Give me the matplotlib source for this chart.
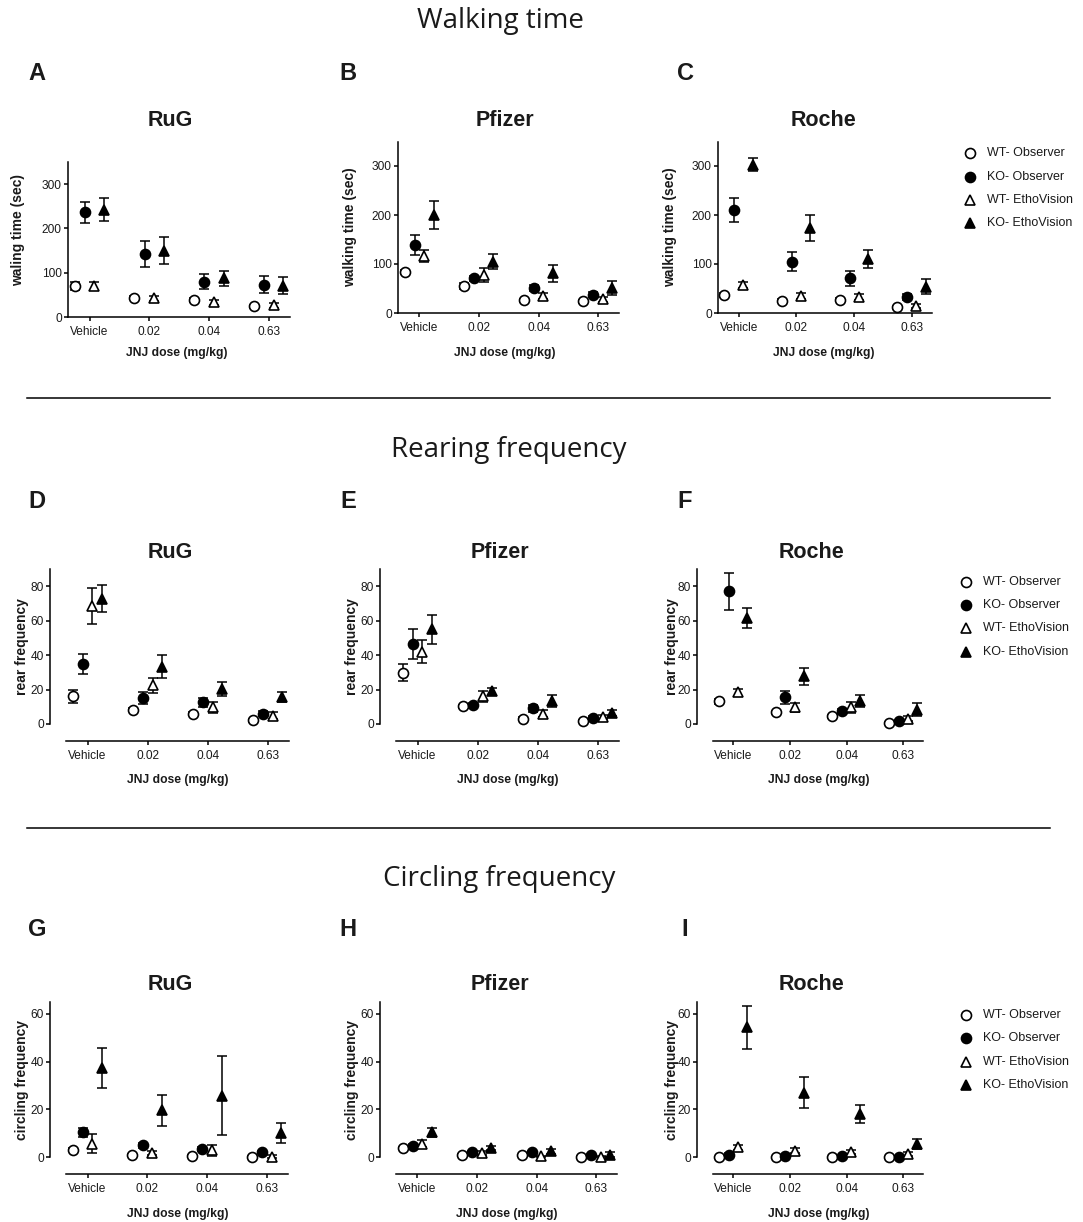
import matplotlib
matplotlib.use('Agg')
import matplotlib.pyplot as plt
from matplotlib import font_manager
from matplotlib.lines import Line2D
import numpy as np

doses = ['Vehicle', '0.02', '0.04', '0.63']
groups = ['WT- Observer', 'KO- Observer', 'WT- EthoVision', 'KO- EthoVision']
sites = ['RuG', 'Pfizer', 'Roche']

# walking time (sec), rows = groups, cols = doses
walk_rug = [[71, 44, 39, 24], [236, 143, 80, 73], [71, 42, 33, 26], [242, 150, 88, 71]]
walk_rug_err = [[9, 4, 4, 3], [23, 29, 17, 19], [9, 6, 6, 6], [26, 31, 17, 20]]
walk_pfizer = [[83, 56, 26, 24], [139, 71, 51, 37], [116, 78, 34, 28], [200, 105, 81, 51]]
walk_pfizer_err = [[4, 6, 3, 3], [20, 5, 7, 5], [12, 14, 6, 5], [28, 15, 17, 14]]
walk_roche = [[36, 25, 27, 12], [210, 105, 71, 32], [58, 35, 32, 15], [303, 173, 110, 54]]
walk_roche_err = [[4, 3, 3, 3], [24, 20, 15, 6], [6, 6, 6, 4], [13, 26, 19, 16]]

# rear frequency
rear_rug = [[16, 8.3, 6, 2.1], [34.9, 15, 12.5, 6], [68.4, 22.4, 9.6, 4.8], [72.8, 33.3, 20.2, 15.6]]
rear_rug_err = [[3.9, 1, 1, 0.8], [5.8, 3.3, 2.5, 1.5], [10.5, 4.3, 3, 2], [8, 6.5, 4, 3]]
rear_pfizer = [[29.9, 10.2, 3.1, 1.9], [46.4, 10.8, 9.1, 3.7], [42, 16, 6, 4], [54.9, 18.9, 13.5, 6.4]]
rear_pfizer_err = [[4.8, 1, 0.8, 0.6], [8.9, 1.5, 2, 1], [6.5, 3.2, 2, 1], [8.2, 2, 3.4, 2]]
rear_roche = [[13.1, 6.7, 4.4, 0.6], [77, 15.4, 7.3, 1.5], [18.3, 9.6, 9.6, 3.1], [61.7, 27.6, 13.1, 8.3]]
rear_roche_err = [[1.5, 1, 1, 0.5], [10.6, 4, 1.5, 1], [2, 2.5, 3, 1.5], [5.8, 5.2, 3.5, 3.8]]

# circling frequency
circ_rug = [[3.1, 0.7, 0.6, 0.1], [10.3, 4.9, 3.4, 2.1], [5.5, 1.7, 2.8, 0.2], [37.3, 19.6, 25.7, 10.1]]
circ_rug_err = [[0.5, 0.4, 0.4, 0.2], [1.9, 1, 0.8, 0.5], [4, 1, 2.4, 0.5], [8.5, 6.6, 16.6, 4.3]]
circ_pfizer = [[3.8, 1, 0.7, 0.1], [4.5, 2.1, 2.1, 0.7], [5.6, 1.7, 0.3, 0.2], [10.3, 3.8, 2.4, 1]]
circ_pfizer_err = [[0.5, 0.3, 0.3, 0.2], [0.8, 0.5, 0.5, 0.4], [1.5, 0.8, 0.3, 0.3], [1.8, 1, 1, 1]]
circ_roche = [[0.1, 0.1, 0.1, 0.1], [1, 0.3, 0.3, 0.2], [4, 2.7, 2, 1.4], [54.4, 26.9, 18, 5.5]]
circ_roche_err = [[0.1, 0.1, 0.1, 0.1], [0.5, 0.2, 0.2, 0.2], [1, 1, 0.8, 0.8], [9.1, 6.5, 3.6, 2.2]]

W, H = 1083, 1222
fig = plt.figure(figsize=(W / 100, H / 100), dpi=100)

names = {f.name for f in font_manager.fontManager.ttflist}
has_narrow = 'Liberation Sans Narrow' in names
narrow = 'Liberation Sans Narrow' if has_narrow else 'Liberation Sans'
arial = 'Liberation Sans'
txt = '#1a1a1a'


def fx(x):
    return x / W


def fy(y):
    return 1 - y / H


def make_axes(l, r, t, b):
    return fig.add_axes([fx(l), fy(b), fx(r - l), (b - t) / H])


offsets = [-0.25, -0.08, 0.08, 0.24]
markers = ['o', 'o', '^', '^']
faces = ['white', 'black', 'white', 'black']


def draw(ax, means, errs):
    x = np.arange(len(doses))
    for g in range(4):
        eb = ax.errorbar(x + offsets[g], means[g], yerr=errs[g], fmt='none', ecolor='black',
                         elinewidth=1.1, capsize=3.3, capthick=1.1, zorder=2)
        for art in eb.lines[1] + eb.lines[2]:
            art.set_clip_on(False)
        ax.plot(x + offsets[g], means[g], linestyle='none', marker=markers[g], ms=7.2,
                mfc=faces[g], mec='black', mew=1.2, zorder=3, clip_on=False)


def style(ax, ylim, yticks, offset):
    ax.set_xlim(-0.36, 3.35)
    ax.set_ylim(*ylim)
    ax.set_yticks(yticks)
    ax.set_xticks(np.arange(len(doses)))
    ax.set_xticklabels(doses)
    for s in ['top', 'right']:
        ax.spines[s].set_visible(False)
    for s in ['left', 'bottom']:
        ax.spines[s].set_linewidth(1.1)
    if offset:
        ax.spines['left'].set_position(('outward', 11.5))
        ax.spines['bottom'].set_position(('outward', 12.2))
        ax.spines['left'].set_bounds(ylim[0], ylim[1])
    ax.tick_params(axis='both', direction='out', length=3, width=1.1, color='black',
                   labelsize=8.6, labelcolor=txt)
    ax.tick_params(axis='y', pad=1.5)
    ax.tick_params(axis='x', pad=3.5)
    for lab in ax.get_xticklabels() + ax.get_yticklabels():
        lab.set_family(arial)


# row layout in pixels: (left, right, top, bottom) for each panel
row1 = [(68, 290, 162, 317), (398, 619, 141.5, 313), (718, 932, 141.5, 313)]
row2 = [(66, 289, 569, 724), (396, 619, 569, 724), (713, 923, 569, 724)]
row3 = [(66, 288, 1002, 1157), (396, 617, 1002, 1157), (713, 923, 1002, 1157)]

rows = [
    dict(boxes=row1, data=[(walk_rug, walk_rug_err), (walk_pfizer, walk_pfizer_err), (walk_roche, walk_roche_err)],
         ylim=(0, 350), yticks=[0, 100, 200, 300], offset=False,
         ylabels=['waling time (sec)', 'walking time (sec)', 'walking time (sec)'],
         yl_pos=[(18, 230), (350, 227), (670, 227)], xl_y=353,
         letters=['A', 'B', 'C'], letter_y=73, title_y=121,
         title_x=[170, 505, 824], xl_x=[177, 505, 824],
         legend=(970, 987, [153, 177, 200, 223])),
    dict(boxes=row2, data=[(rear_rug, rear_rug_err), (rear_pfizer, rear_pfizer_err), (rear_roche, rear_roche_err)],
         ylim=(0, 90), yticks=[0, 20, 40, 60, 80], offset=True,
         ylabels=['rear frequency'] * 3,
         yl_pos=[(22, 647), (352, 647), (672, 647)], xl_y=780,
         letters=['D', 'E', 'F'], letter_y=501, title_y=552,
         title_x=[170, 500, 811], xl_x=[178, 508, 819],
         legend=(966, 983, [582, 605, 628, 652])),
    dict(boxes=row3, data=[(circ_rug, circ_rug_err), (circ_pfizer, circ_pfizer_err), (circ_roche, circ_roche_err)],
         ylim=(0, 65), yticks=[0, 20, 40, 60], offset=True,
         ylabels=['circling frequency'] * 3,
         yl_pos=[(22, 1080), (352, 1080), (672, 1080)], xl_y=1214,
         letters=['G', 'H', 'I'], letter_y=929, title_y=985,
         title_x=[170, 500, 811], xl_x=[178, 507, 819],
         legend=(966, 983, [1015, 1038, 1062, 1085])),
]

letter_x = [37, 348, 685]
title_size = 18 if has_narrow else 15.5
legend_size = 10.5 if has_narrow else 9

for row in rows:
    for i, (box, (m, e)) in enumerate(zip(row['boxes'], row['data'])):
        ax = make_axes(*box)
        draw(ax, m, e)
        style(ax, row['ylim'], row['yticks'], row['offset'])
        fig.text(fx(row['yl_pos'][i][0]), fy(row['yl_pos'][i][1]), row['ylabels'][i], rotation=90,
                 ha='center', va='center', fontsize=10, fontweight='bold', family=arial, color=txt)
        fig.text(fx(row['xl_x'][i]), fy(row['xl_y']), 'JNJ dose (mg/kg)', ha='center', va='center',
                 fontsize=8.7, fontweight='bold', family=arial, color=txt)
        fig.text(fx(row['title_x'][i]), fy(row['title_y']), sites[i], ha='center', va='center',
                 fontsize=title_size, fontweight='bold', family=narrow, color=txt)
        fig.text(fx(letter_x[i]), fy(row['letter_y']), row['letters'][i], ha='center', va='center',
                 fontsize=17, fontweight='bold', family=arial, color=txt)
    mx, tx, ys = row['legend']
    for g, y in enumerate(ys):
        fig.add_artist(Line2D([fx(mx)], [fy(y)], transform=fig.transFigure, linestyle='none',
                              marker=markers[g], ms=7.2, mfc=faces[g], mec='black', mew=1.2))
        fig.text(fx(tx), fy(y), groups[g], ha='left', va='center', fontsize=legend_size,
                 family=narrow, color=txt)

# section headings and separators
for label, x, y in [('Walking time', 500, 21), ('Rearing frequency', 509, 450), ('Circling frequency', 499, 879)]:
    fig.text(fx(x), fy(y), label, ha='center', va='center', fontsize=20, family='Open Sans', color=txt)
for y in [398, 828]:
    fig.add_artist(Line2D([fx(27), fx(1050)], [fy(y), fy(y)], transform=fig.transFigure,
                          color='black', lw=1.1))

fig.savefig('out.png', dpi=100)
